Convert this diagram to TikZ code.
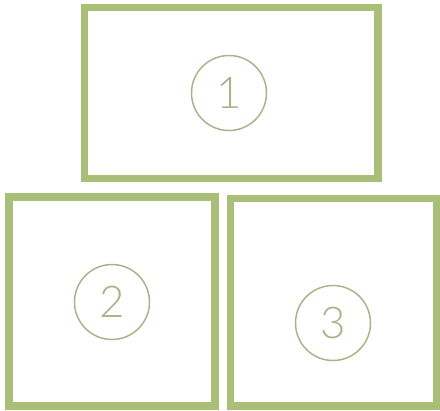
\documentclass[tikz,border=0pt]{standalone}
\usepackage{fontspec}
\setmainfont{Lato Light}
\definecolor{frame}{RGB}{169,191,120}
\definecolor{mark}{RGB}{170,180,140}
\begin{document}
\begin{tikzpicture}[x=1bp,y=-1bp,
  panel/.style={draw=frame,line width=7.5bp,fill=white},
  num/.style={circle,draw=mark,line width=1.5bp,minimum size=75bp,inner sep=0pt,text=mark,font=\fontsize{44}{44}\selectfont}]
\path[use as bounding box,fill=white] (0,0) rectangle (440,410);
\draw[panel] (84.5,7.5) rectangle (378,178.5);
\draw[panel] (9,197) rectangle (215,406);
\draw[panel] (230.5,198.5) rectangle (436.5,406);
\node[num] (n1) at (229,93) {1};
\node[num] (n2) at (112,302) {2};
\node[num] (n3) at (333,323) {3};
\end{tikzpicture}
\end{document}
